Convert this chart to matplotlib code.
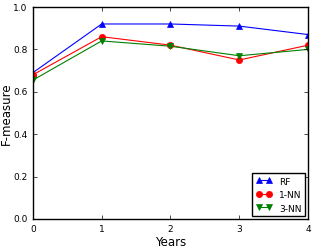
import matplotlib
matplotlib.use("Agg")
import matplotlib.pyplot as plt

plt.style.use("classic")

years = [0, 1, 2, 3, 4]
rf = [0.69, 0.92, 0.92, 0.91, 0.87]
nn1 = [0.68, 0.86, 0.82, 0.75, 0.82]
nn3 = [0.655, 0.84, 0.815, 0.77, 0.80]

fig = plt.figure(figsize=(3.16, 2.51), dpi=100)
ax = fig.add_axes([0.104, 0.124, 0.871, 0.844])

ax.plot(years, rf, "b^-", label="RF", markersize=4.5, linewidth=0.8, markeredgecolor="b")
ax.plot(years, nn1, "ro-", label="1-NN", markersize=4.5, linewidth=0.8, markeredgecolor="r")
ax.plot(years, nn3, "gv-", label="3-NN", markersize=4.5, linewidth=0.8, markeredgecolor="g")

ax.set_xlim(0, 4)
ax.set_ylim(0, 1.0)
ax.set_xticks(years)
ax.set_yticks([0.0, 0.2, 0.4, 0.6, 0.8, 1.0])
ax.tick_params(labelsize=6.5, length=3)
ax.set_xlabel("Years", fontsize=8.5, labelpad=1)
ax.set_ylabel("F-measure", fontsize=8.5)
ax.yaxis.set_label_coords(-0.072, 0.5)

leg = ax.legend(loc="lower right", fontsize=6.5, numpoints=2, borderaxespad=0.3,
                handlelength=1.8, labelspacing=0.5)

fig.savefig("out.png", dpi=100)
